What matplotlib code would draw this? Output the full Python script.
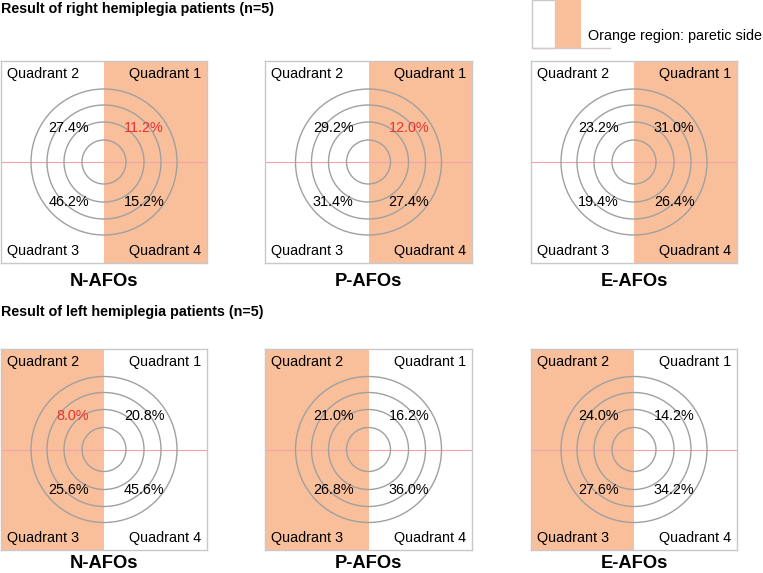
import matplotlib
matplotlib.use("Agg")
import matplotlib.pyplot as plt
from matplotlib.patches import Circle, Rectangle

plt.rcParams['font.family'] = ['Liberation Sans', 'DejaVu Sans']

# ---------------- data ----------------
devices = ["N-AFOs", "P-AFOs", "E-AFOs"]
quadrant_names = ["Quadrant 1", "Quadrant 2", "Quadrant 3", "Quadrant 4"]

right_q1 = [11.2, 12.0, 31.0]
right_q2 = [27.4, 29.2, 23.2]
right_q3 = [46.2, 31.4, 19.4]
right_q4 = [15.2, 27.4, 26.4]
right_red = [[1], [1], []]          # quadrants printed in red

left_q1 = [20.8, 16.2, 14.2]
left_q2 = [8.0, 21.0, 24.0]
left_q3 = [25.6, 26.8, 27.6]
left_q4 = [45.6, 36.0, 34.2]
left_red = [[2], [], []]

title_right = "Result of right hemiplegia patients (n=5)"
title_left = "Result of left hemiplegia patients (n=5)"
legend_text = "Orange region: paretic side"

# ---------------- style ----------------
W, H = 763, 573
ORANGE = '#F9BF9B'
BORDER = '#c8c8c8'
RING = '#a0a0a0'
PINK = '#f2a3aa'
RED = '#e8312f'
FS = 10.4

fig = plt.figure(figsize=(W / 100, H / 100), dpi=100)


def fig_axes(x0, y0, x1, y1):
    """pixel box (top-left origin) -> axes"""
    return fig.add_axes([x0 / W, 1 - y1 / H, (x1 - x0) / W, (y1 - y0) / H])


def draw_panel(ax, w, h, vals, red, paretic):
    ax.set_xlim(-w / 2, w / 2)
    ax.set_ylim(-h / 2, h / 2)
    ax.set_xticks([])
    ax.set_yticks([])
    for s in ax.spines.values():
        s.set_color(BORDER)
        s.set_linewidth(1.0)
    if paretic == 'right':
        ax.axvspan(0, w / 2, color=ORANGE, lw=0, zorder=0)
    else:
        ax.axvspan(-w / 2, 0, color=ORANGE, lw=0, zorder=0)
    ax.axhline(0, color=PINK, lw=0.8, zorder=1)
    for r in [22, 40, 57, 73]:
        ax.add_patch(Circle((0, 0), r, fill=False, ec=RING, lw=1.0, zorder=2))
    q1, q2, q3, q4 = vals
    pos = {1: (20, 34, 'left'), 2: (-15, 34, 'right'),
           3: (-15, -40, 'right'), 4: (20, -40, 'left')}
    for q, v in zip([1, 2, 3, 4], [q1, q2, q3, q4]):
        x, y, ha = pos[q]
        ax.text(x, y, f"{v:.1f}%", ha=ha, va='center', fontsize=FS,
                color=RED if q in red else 'black', zorder=3)
    m = 6
    ax.text(w / 2 - m, h / 2 - 13, quadrant_names[0], ha='right', va='center', fontsize=FS)
    ax.text(-w / 2 + m, h / 2 - 13, quadrant_names[1], ha='left', va='center', fontsize=FS)
    ax.text(-w / 2 + m, -h / 2 + 12, quadrant_names[2], ha='left', va='center', fontsize=FS)
    ax.text(w / 2 - m, -h / 2 + 12, quadrant_names[3], ha='right', va='center', fontsize=FS)


xs = [(1, 207), (265, 472), (531, 737)]
rows = [
    (61, 263, 281, [right_q1, right_q2, right_q3, right_q4], right_red, 'right'),
    (349, 550, 563, [left_q1, left_q2, left_q3, left_q4], left_red, 'left'),
]

for (y0, y1, ylab, qs, reds, side) in rows:
    for i, (x0, x1) in enumerate(xs):
        ax = fig_axes(x0, y0, x1, y1)
        vals = [qs[0][i], qs[1][i], qs[2][i], qs[3][i]]
        draw_panel(ax, x1 - x0, y1 - y0, vals, reds[i], side)
        fig.text(((x0 + x1) / 2) / W, 1 - ylab / H, devices[i], ha='center',
                 va='center', fontsize=13.2, fontweight='bold')

fig.text(1 / W, 1 - 9 / H, title_right, ha='left', va='center', fontsize=FS - 0.1,
         fontweight='bold')
fig.text(1 / W, 1 - 312 / H, title_left, ha='left', va='center', fontsize=FS - 0.1,
         fontweight='bold')

# legend
lax = fig_axes(530, 0, 612, 50)
lax.set_xlim(530, 612)
lax.set_ylim(50, 0)
lax.axis('off')
lax.add_patch(Rectangle((532, 0), 23, 48, fc='white', ec=BORDER, lw=1.0))
lax.add_patch(Rectangle((555, 0), 26, 48, fc=ORANGE, ec='none'))
lax.plot([532, 610], [48, 48], color='#d8c8cc', lw=1.0)
fig.text(588 / W, 1 - 36 / H, legend_text, ha='left', va='center', fontsize=FS)

fig.savefig("out.png", dpi=100)
